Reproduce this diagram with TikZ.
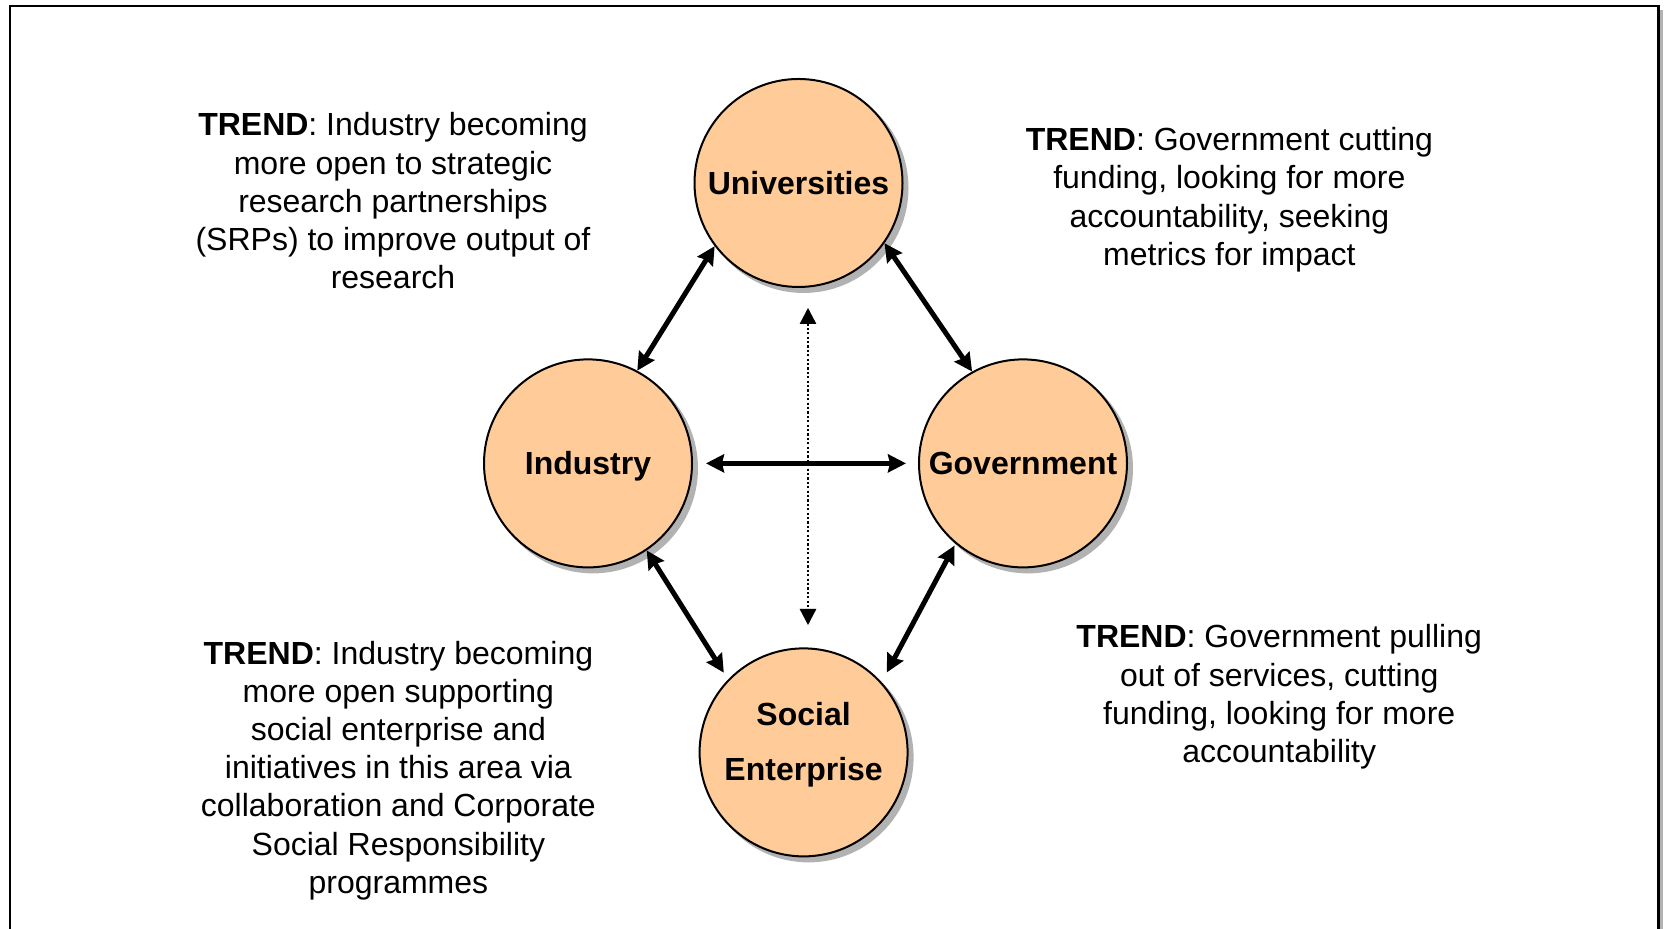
\documentclass[tikz,border=0pt]{standalone}
\usepackage{fontspec}
\setmainfont{Liberation Sans}
\usepackage{tikz}
\usetikzlibrary{arrows.meta}
\usetikzlibrary{shadows}
\usetikzlibrary{positioning}
\definecolor{peach}{HTML}{FFCC99}
\tikzstyle{actor} = [draw, circle, line width = 1pt, fill = peach, minimum size = 104pt, inner sep = 0pt, align = center, text height = 11.5pt, text depth = 0pt, font = \fontsize{16}{19.1}\selectfont\bfseries, copy shadow = {shadow xshift = 2.5pt, shadow yshift = -2.5pt, draw = black!30, fill = black!30}]
\tikzstyle{trend} = [align = center, inner sep = 0pt, font = \fontsize{16}{19.1}\selectfont]
\tikzstyle{arrow} = [line width = 2.5pt, {Stealth[length = 9pt, width = 9pt, inset = 1pt]}-{Stealth[length = 9pt, width = 9pt, inset = 1pt]}]
\tikzstyle{link} = [line width = 1.2pt, dash pattern = on 1.1pt off 1.1pt, {Triangle[length = 8pt, width = 8pt]}-{Triangle[length = 8pt, width = 8pt]}]

\begin{document}
\begin{tikzpicture}[x = 1pt, y = 1pt]
	\useasboundingbox (0,0) rectangle (833,464.5);

	% Frame
	\draw[black!30, line width = 1.6pt] (830.8,-20) -- (830.8,459.7);
	\draw[line width = 1.3pt] (5,-20) rectangle (829.25,461.5);

	% The four actors
	\node[actor] (industry) at (294,232.8) {Industry};
	\node[actor, right = 112.5pt of industry] (government) {Government};
	\node[actor] (universities) at (399.25,373) {Universities};
	\node[actor, text height = 39.3pt, text depth = 11pt] (social) at (401.8,88.3) {Social\\[8.7pt]Enterprise};

	% Connect the actors
	\draw[arrow] (universities.217) -- (industry.62);
	\draw[arrow] (universities.325) -- (government.119);
	\draw[arrow, shorten <= 6.5pt, shorten >= 6pt] (industry) -- (government);
	\draw[arrow, shorten >= 4pt] (industry.304) -- (social.136);
	\draw[arrow, shorten <= 1pt, shorten >= 5.5pt] (government.230) -- (social.42);

	% Dotted link between universities and social enterprise
	\coordinate (dtop) at (404,310.5);
	\coordinate (dbot) at (404,152);
	\draw[link, black!30, xshift = 2.3pt, yshift = -2pt] (dtop) -- (dbot);
	\draw[link] (dtop) -- (dbot);

	% Trends
	\node[trend] (trendul) at (196.5,364.1) {\textbf{TREND}: Industry becoming\\more open to strategic\\research partnerships\\(SRPs) to improve output of\\research};
	\node[trend] (trendur) at (614.7,364.6) {\textbf{TREND}: Government cutting\\funding, looking for more\\accountability, seeking\\metrics for impact};
	\node[trend] (trendll) at (199.2,79.3) {\textbf{TREND}: Industry becoming\\more open supporting\\social enterprise and\\initiatives in this area via\\collaboration and Corporate\\Social Responsibility\\programmes};
	\node[trend] (trendlr) at (639.6,116) {\textbf{TREND}: Government pulling\\out of services, cutting\\funding, looking for more\\accountability};

\end{tikzpicture}
\end{document}
